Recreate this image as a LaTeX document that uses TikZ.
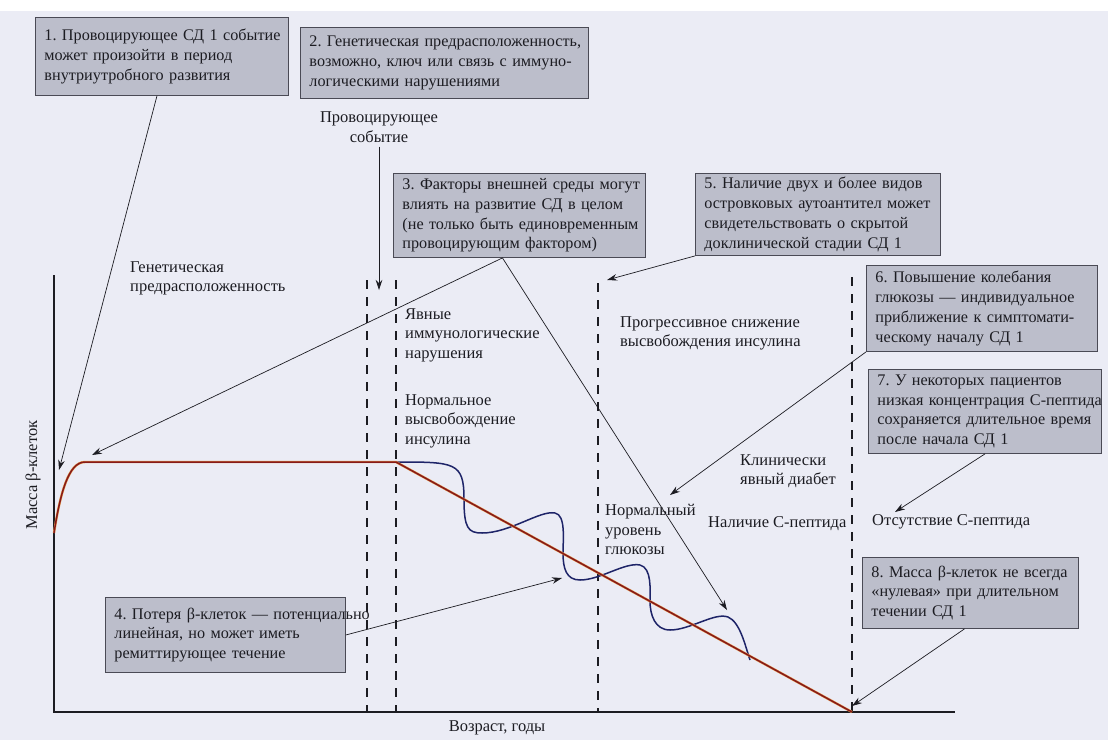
\documentclass[tikz,border=0pt]{standalone}
\usepackage{fontspec}
\setmainfont{Liberation Serif}
\usetikzlibrary{arrows.meta}
\frenchspacing
\newcommand\oneline[1]{\mbox{#1}}
\definecolor{bgc}{HTML}{EBECF5}
\definecolor{boxfill}{HTML}{BCBECB}
\definecolor{boxline}{HTML}{4A4A55}
\definecolor{redc}{HTML}{861A1A}
\definecolor{orangec}{HTML}{E69A4A}
\definecolor{bluec}{HTML}{1E2468}
\definecolor{ink}{HTML}{1C1C22}
\begin{document}
\begin{tikzpicture}[x=1pt,y=-1pt,
  every node/.style={font=\fontsize{16.5}{19.7}\selectfont, text=ink},
  note/.style={draw=boxline, fill=boxfill, line width=0.9pt, anchor=north west, align=left, inner xsep=9pt, inner ysep=0pt, font=\fontsize{16.2}{19.7}\selectfont},
  lbl/.style={anchor=north west, align=left, inner sep=0pt},
  conn/.style={draw=ink, line width=0.7pt, -{Stealth[length=10pt,width=6.5pt]}},
  dashline/.style={draw=ink, line width=1.3pt, dash pattern=on 9pt off 8pt},
  axisline/.style={draw=ink, line width=1.4pt},
  redcurve/.style={draw=redc, line width=1.5pt, line join=round, preaction={draw=orangec, line width=2.4pt}},
  bluecurve/.style={draw=bluec, line width=1.5pt}]
\useasboundingbox (0,0) rectangle (1108,740);
\fill[bgc] (0,0) rectangle (1108,740);
\fill[white] (0,0) rectangle (1108,11);

% boxes
\node[note, text width=235pt, minimum height=78pt] (b1) at (35,17) {\oneline{1. Провоцирующее СД 1 событие}\\ \oneline{может произойти в период}\\ \oneline{внутриутробного развития}};
\node[note, text width=270pt, minimum height=71pt] (b2) at (300,27) {\oneline{2. Генетическая предрасположенность,}\\ \oneline{возможно, ключ или связь с иммуно-}\\ \oneline{логическими нарушениями}};
\node[note, text width=234pt, minimum height=84pt] (b3) at (393,173) {\oneline{3. Факторы внешней среды могут}\\ \oneline{влиять на развитие СД в целом}\\ \oneline{(не только быть единовременным}\\ \oneline{провоцирующим фактором)}};
\node[note, text width=227pt, minimum height=82pt] (b5) at (695,173) {\oneline{5. Наличие двух и более видов}\\ \oneline{островковых аутоантител может}\\ \oneline{свидетельствовать о скрытой}\\ \oneline{доклинической стадии СД 1}};
\node[note, text width=213pt, minimum height=86pt] (b6) at (866,265) {\oneline{6. Повышение колебания}\\ \oneline{глюкозы — индивидуальное}\\ \oneline{приближение к симптомати-}\\ \oneline{ческому началу СД 1}};
\node[note, text width=215pt, minimum height=84pt] (b7) at (868,369) {\oneline{7. У некоторых пациентов}\\ \oneline{низкая концентрация С-пептида}\\ \oneline{сохраняется длительное время}\\ \oneline{после начала СД 1}};
\node[note, text width=198pt, minimum height=71pt] (b8) at (862,557) {\oneline{8. Масса β-клеток не всегда}\\ \oneline{«нулевая» при длительном}\\ \oneline{течении СД 1}};
\node[note, text width=222pt, minimum height=75pt] (b4) at (105,597) {\oneline{4. Потеря β-клеток — потенциально}\\ \oneline{линейная, но может иметь}\\ \oneline{ремиттирующее течение}};

% axes
\coordinate (Ytop) at (54,275);
\coordinate (O) at (54,712);
\coordinate (Xend) at (955,712);
\draw[axisline] (Ytop) -- (O) -- (Xend);

% dashed lines
\coordinate (d1t) at (367,280); \coordinate (d1b) at (367,712);
\coordinate (d2t) at (396,280); \coordinate (d2b) at (396,712);
\coordinate (d3t) at (598,283); \coordinate (d3b) at (598,712);
\coordinate (d4t) at (852,277); \coordinate (d4b) at (852,712);
\draw[dashline] (d1t) -- (d1b);
\draw[dashline] (d2t) -- (d2b);
\draw[dashline] (d3t) -- (d3b);
\draw[dashline] (d4t) -- (d4b);

% labels
\node[lbl] (gen) at (130,261) {Генетическая\\ предрасположенность};
\node[lbl] (imm) at (405,308) {Явные\\ иммунологические\\ нарушения};
\node[lbl] (norm) at (405,394) {Нормальное\\ высвобождение\\ инсулина};
\node[lbl] (prog) at (620,316) {Прогрессивное снижение\\ высвобождения инсулина};
\node[lbl] (clin) at (740,454) {Клинически\\ явный диабет};
\node[lbl] (cpep) at (708,516) {Наличие С-пептида};
\node[lbl] (gluc) at (605,504) {Нормальный\\ уровень\\ глюкозы};
\node[lbl] (nocp) at (872,514) {Отсутствие С-пептида};
\node[align=center, inner sep=0pt] (event) at (379,127) {Провоцирующее\\ событие};
\node (age) at (497,728) {Возраст, годы};
\node[rotate=90] (mass) at (33,475) {Масса β-клеток};

% curves
\coordinate (R0) at (54,533);
\coordinate (R1) at (85,462);
\coordinate (R2) at (396,462);
\coordinate (R3) at (852,712);
\draw[bluecurve] (R2)
  .. controls (455,462) and (464,462) .. (464,499)
  .. controls (464,528) and (468,533) .. (482,533)
  .. controls (510,533) and (540,510) .. (555,513)
  .. controls (566,515) and (563,540) .. (563,553)
  .. controls (563,568) and (566,580) .. (580,580)
  .. controls (600,580) and (625,562) .. (640,565)
  .. controls (652,568) and (650,590) .. (650,601)
  .. controls (650,615) and (655,630) .. (670,630)
  .. controls (690,630) and (715,612) .. (728,617)
  .. controls (740,622) and (745,645) .. (750,660);
\draw[redcurve] (R0) .. controls (60,495) and (68,462) .. (R1) -- (R2) -- (R3);

% connectors
\coordinate (t1) at (59,470);
\coordinate (t2) at (92,455);
\coordinate (t3) at (727,610);
\coordinate (t5) at (607,280);
\coordinate (t6) at (670,495);
\coordinate (t7) at (895,512);
\coordinate (t8) at (852,706);
\coordinate (t4) at (562,578);
\coordinate (tev) at (379,290);
\draw[conn] ([yshift=-4pt]event.south) -- (tev);
\draw[conn] ([xshift=-5pt]b1.south) -- (t1);
\draw[conn] ([xshift=-17pt]b3.south) -- (t2);
\draw[conn] ([xshift=-17pt]b3.south) -- (t3);
\draw[conn] (b5.south west) -- (t5);
\draw[conn] (b6.south west) -- (t6);
\draw[conn] (b7.south) -- (t7);
\draw[conn] ([xshift=-6pt]b8.south) -- (t8);
\draw[conn] (b4.east) -- (t4);
\end{tikzpicture}
\end{document}
